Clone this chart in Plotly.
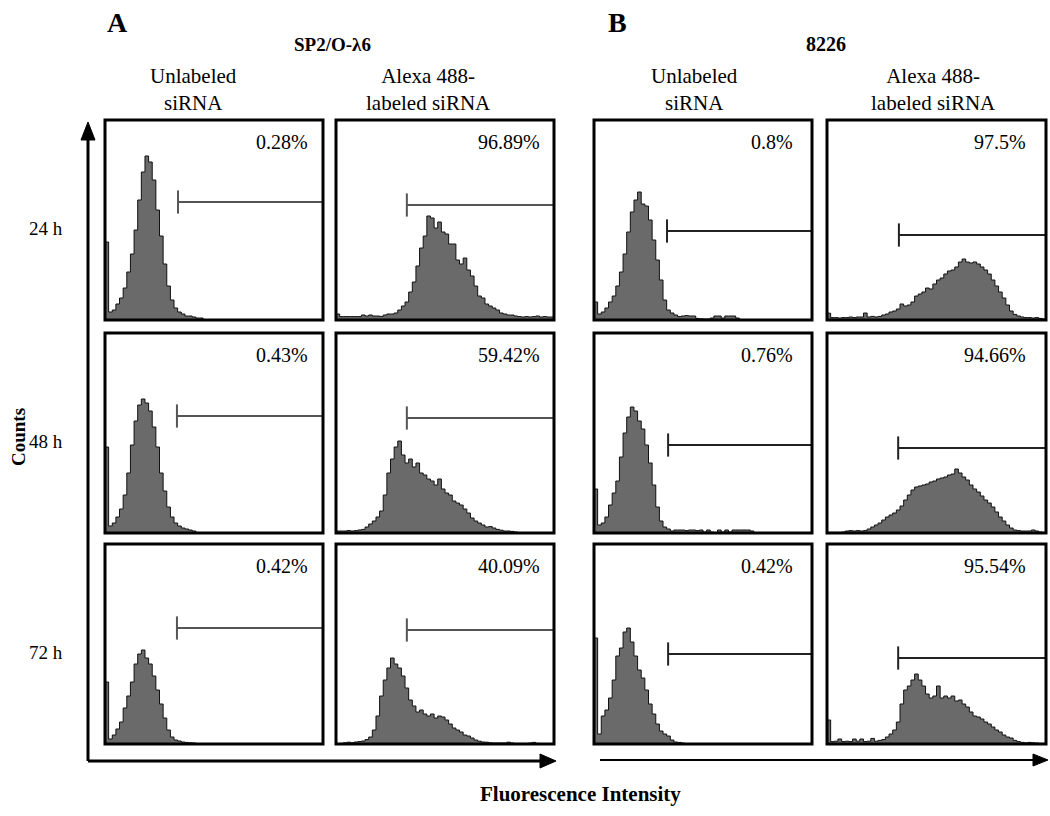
import plotly.graph_objects as go

# ---------------- data (counts, % of panel full scale; 60 channels) ----------------
sp2_unlab_24h = [39,4,5,8,11,16,24,33,45,60, 74,82,79,70,55,42,28,17,10,6,
                 4,3,2,2,1.5,1,1,0,0,0, 0,0,0,0,0,0,0,0,0,0,
                 0,0,0,0,0,0,0,0,0,0, 0,0,0,0,0,0,0,0,0,0]
sp2_alexa_24h = [3,1.7,1.7,1.7,1.7,1.7,1.7,2.5,2,2.5, 2,2,1.8,2.5,3,3,3.5,5,7,9,
                 14,19,27,36,42,52,51,46,49,44, 43,38,38,30,28,31,25,22,17,12,
                 11,8,7,6,5,3.5,3,2.5,2.5,2, 1.7,1.5,1.7,1.5,1.7,2,1.5,1.7,1.5,1.5]
c8226_unlab_24h = [9,3,4,6,9,12,17,24,33,44, 54,60,64,58,57,50,40,30,20,10,
                   5,3.5,2.5,1.7,2,2.2,2,2,0.8,0.6, 0.5,0.5,1,2,2,1,2,2,2,1,
                   0,0,0,0,0,0,0,0,0,0, 0,0,0,0,0,0,0,0,0,0]
c8226_alexa_24h = [3.4,1.2,1.2,1,1.2,1.2,1.5,1.2,1.5,1.5, 3.5,1.5,1.8,1.5,1.8,2.5,3,4,4.5,5.5,
                   8,7,7.5,9,12,13,14,16,15.5,18, 20,21,23,24.5,25,26.5,29,30.5,29,28.5,
                   29,28,26.5,25,23,20,17,14,11,7.5, 4.5,2.8,2,1.5,1.2,1.2,1,1.2,0.8,0.5]

sp2_unlab_48h = [43,3.5,5,8,12,19,30,44,56,64, 67,65,61,53,43,30,21,13,8,5,
                 3.5,2.5,2,1.5,1,0,0,0,0,0, 0,0,0,0,0,0,0,0,0,0,
                 0,0,0,0,0,0,0,0,0,0, 0,0,0,0,0,0,0,0,0,0]
sp2_alexa_48h = [1,1,1,1.2,1,1.2,1.5,1.8,3,4.5, 6,8,11,19,30,37,43,46,39,35,
                 37,33,35,30,29,27,26,24,27,22, 20,19,16,15,14,12,10,7.5,6,5,
                 4,3,3.2,2.5,1.8,1.4,1,1,0.8,0.5, 0,0,0,0,0,0,0,0,0,0]
c8226_unlab_48h = [22,4,5,8,14,20,26,38,50,58, 63,61,56,52,44,35,24,13,6,3,
                   2,1,1.5,1.5,1.5,1.2,1.5,1.5,1.2,1.5, 0.5,1.5,0.5,0,1.5,0.5,1.5,0.5,1.5,1.5,
                   1.5,1.5,1.5,1,0,0,0,0,0,0, 0,0,0,0,0,0,0,0,0,0]
c8226_alexa_48h = [0.3,0.3,0.3,0.3,0.5,1,1.2,1,1.2,1, 1.2,2,3,4,5,6.5,8,9,10,11.5,
                   13.5,16.5,19,21.5,23,23.5,24,24.5,25.5,26, 27,27.5,28,29,29.5,32,30,28,26.5,24,
                   22,20.5,18.5,16.5,15,13,10.5,8,6,4, 2.5,1.5,1.2,1,1,1,1.5,1,0.5,0.3]

sp2_unlab_72h = [31,2.5,4.5,7.5,11,18,24,31,40,45, 47,43,40,34,27,20,13,7,3.5,2,
                 1.5,1,0.8,0.6,0.5,0,0,0,0,0, 0,0,0,0,0,0,0,0,0,0,
                 0,0,0,0,0,0,0,0,0,0, 0,0,0,0,0,0,0,0,0,0]
sp2_alexa_72h = [0.2,0.3,0.6,0.9,0.6,1,1.2,1.5,2.2,3.5, 7,14,24,32,38,43,40,38,34,28,
                 22,19,16,17,15,14,15,13,14,13.5, 12,10,8,7,6,4.5,4,3,2,1.4,
                 1,0.9,0.6,0.5,0.5,0.5,0.5,0.9,0.5,0.3, 0.3,0.3,0.3,0.5,0.8,0.3,0.2,0.2,0.2,0.2]
c8226_unlab_72h = [53,5,14,17,23,32,44,48,56,58, 51,44,37,33,27,20,15,10,6.5,5,
                   4,2,1,0.8,0.5,0,0,0,0,0, 0,0,0,0,0,0,0,0,0,0,
                   0,0,0,0,0,0,0,0,0,0, 0,0,0,0,0,0,0,0,0,0]
c8226_alexa_72h = [12,1.2,1.4,2.5,1.2,1.4,1.2,2.5,1.4,2.5, 1.2,1.4,2.8,1.4,1.8,2.2,3.5,5,7,11,
                   20,27,29,32,35,32,29,25,23,24, 29,23,24,23,24,21.5,22,20,18.5,16,
                   14,13.5,12.5,11,10,8.5,7,6,4.5,3.5, 3,1.8,1.2,0.8,0.6,0.8,0.6,0.5,0.3,0.3]

time_labels = ["24 h", "48 h", "72 h"]
column_labels = ["Unlabeled<br>siRNA", "Alexa 488-<br>labeled siRNA",
                 "Unlabeled<br>siRNA", "Alexa 488-<br>labeled siRNA"]
panel_letters = ["A", "B"]
cell_lines = ["SP2/O-λ6", "8226"]

histograms = [
    [sp2_unlab_24h, sp2_alexa_24h, c8226_unlab_24h, c8226_alexa_24h],
    [sp2_unlab_48h, sp2_alexa_48h, c8226_unlab_48h, c8226_alexa_48h],
    [sp2_unlab_72h, sp2_alexa_72h, c8226_unlab_72h, c8226_alexa_72h],
]
percent_positive = [
    ["0.28%", "96.89%", "0.8%", "97.5%"],
    ["0.43%", "59.42%", "0.76%", "94.66%"],
    ["0.42%", "40.09%", "0.42%", "95.54%"],
]
gate_start = [
    [20.1, 19.5, 20.1, 19.7],
    [19.8, 19.5, 20.4, 19.5],
    [19.8, 19.5, 20.4, 19.5],
]
gate_level = [
    [59, 57.5, 44.5, 42.5],
    [58.5, 57.5, 44, 42.5],
    [58, 57, 45, 43],
]
N_CH = 60

# ---------------- layout geometry (window pixels) ----------------
W, H = 1050, 816
col_px = [(105, 323), (336, 554), (594, 812), (827, 1046)]
row_px = [(120, 320), (333, 533), (544, 744)]
pct_right_px = [310, 542, 795, 1028]


def px(x):
    return x / W


def py(y):
    return 1 - y / H


fig = go.Figure()
layout_axes = {}
shapes = []
annotations = []
FONT = "Liberation Serif"

k = 0
for r in range(3):
    for c in range(4):
        k += 1
        xa = "x" if k == 1 else f"x{k}"
        ya = "y" if k == 1 else f"y{k}"
        xname = "xaxis" if k == 1 else f"xaxis{k}"
        yname = "yaxis" if k == 1 else f"yaxis{k}"
        x0, x1 = col_px[c]
        y0, y1 = row_px[r]
        layout_axes[xname] = dict(domain=[px(x0), px(x1)], range=[0, N_CH], visible=False,
                                  anchor=ya, fixedrange=True)
        layout_axes[yname] = dict(domain=[py(y1), py(y0)], range=[0, 100], visible=False,
                                  anchor=xa, fixedrange=True)
        vals = histograms[r][c]
        xs = list(range(N_CH)) + [N_CH]
        ys = list(vals) + [vals[-1]]
        fig.add_trace(go.Scatter(x=xs, y=ys, xaxis=xa, yaxis=ya, mode="lines",
                                 line=dict(color="#111111", width=1, shape="hv"),
                                 fill="tozeroy", fillcolor="#6a6a6a",
                                 hoverinfo="skip", showlegend=False))
        gs, gl = gate_start[r][c], gate_level[r][c]
        gate_col = "#555555" if c < 2 else "#222222"
        fig.add_trace(go.Scatter(x=[gs, N_CH, None, gs, gs], y=[gl, gl, None, gl - 5.8, gl + 5.8],
                                 xaxis=xa, yaxis=ya, mode="lines",
                                 line=dict(color=gate_col, width=2),
                                 hoverinfo="skip", showlegend=False))
        shapes.append(dict(type="rect", xref="paper", yref="paper",
                           x0=px(x0), x1=px(x1), y0=py(y1), y1=py(y0),
                           line=dict(color="black", width=3), layer="above"))
        annotations.append(dict(text=percent_positive[r][c], xref="paper", yref="paper",
                                x=px(pct_right_px[c]), y=py(y0 + 22), xanchor="right",
                                yanchor="middle", showarrow=False,
                                font=dict(family=FONT, size=20, color="black")))

# row labels
for r in range(3):
    y0, y1 = row_px[r]
    annotations.append(dict(text=time_labels[r], xref="paper", yref="paper",
                            x=px(46), y=py((y0 + y1) / 2 + 8), xanchor="center", yanchor="middle",
                            showarrow=False, font=dict(family=FONT, size=19, color="black")))

# column headers
header_x = [193, 428, 694, 933]
header_y = [89, 89, 89, 89]
for c in range(4):
    annotations.append(dict(text=column_labels[c], xref="paper", yref="paper",
                            x=px(header_x[c]), y=py(header_y[c]), xanchor="center", yanchor="middle",
                            showarrow=False, align="center",
                            font=dict(family=FONT, size=21, color="black")))

# panel letters and cell lines
annotations.append(dict(text="<b>" + panel_letters[0] + "</b>", xref="paper", yref="paper",
                        x=px(117), y=py(22), xanchor="center", yanchor="middle", showarrow=False,
                        font=dict(family=FONT, size=28, color="black")))
annotations.append(dict(text="<b>" + panel_letters[1] + "</b>", xref="paper", yref="paper",
                        x=px(617), y=py(22), xanchor="center", yanchor="middle", showarrow=False,
                        font=dict(family=FONT, size=28, color="black")))
annotations.append(dict(text="<b>" + cell_lines[0] + "</b>", xref="paper", yref="paper",
                        x=px(333), y=py(44), xanchor="center", yanchor="middle", showarrow=False,
                        font=dict(family=FONT, size=19, color="black")))
annotations.append(dict(text="<b>" + cell_lines[1] + "</b>", xref="paper", yref="paper",
                        x=px(826), y=py(44), xanchor="center", yanchor="middle", showarrow=False,
                        font=dict(family=FONT, size=20, color="black")))

# axis titles
annotations.append(dict(text="<b>Counts</b>", xref="paper", yref="paper", x=px(18), y=py(437),
                        xanchor="center", yanchor="middle", textangle=-90, showarrow=False,
                        font=dict(family=FONT, size=19, color="black")))
annotations.append(dict(text="<b>Fluorescence Intensity</b>", xref="paper", yref="paper",
                        x=px(580), y=py(794), xanchor="center", yanchor="middle", showarrow=False,
                        font=dict(family=FONT, size=21, color="black")))

# axis arrows
shapes.append(dict(type="line", xref="paper", yref="paper", x0=px(88), x1=px(88),
                   y0=py(761), y1=py(136), line=dict(color="black", width=3)))
shapes.append(dict(type="path", xref="paper", yref="paper",
                   path=f"M {px(88)} {py(122)} L {px(81)} {py(140)} L {px(95)} {py(140)} Z",
                   fillcolor="black", line=dict(color="black", width=1)))
shapes.append(dict(type="line", xref="paper", yref="paper", x0=px(88), x1=px(545),
                   y0=py(761), y1=py(761), line=dict(color="black", width=3)))
shapes.append(dict(type="path", xref="paper", yref="paper",
                   path=f"M {px(556)} {py(761)} L {px(540)} {py(754)} L {px(540)} {py(768)} Z",
                   fillcolor="black", line=dict(color="black", width=1)))
shapes.append(dict(type="line", xref="paper", yref="paper", x0=px(600), x1=px(1036),
                   y0=py(760), y1=py(760), line=dict(color="black", width=2)))
shapes.append(dict(type="path", xref="paper", yref="paper",
                   path=f"M {px(1048)} {py(760)} L {px(1033)} {py(754)} L {px(1033)} {py(766)} Z",
                   fillcolor="black", line=dict(color="black", width=1)))

fig.update_layout(width=W, height=H, autosize=False,
                  margin=dict(l=0, r=0, t=0, b=0),
                  paper_bgcolor="white", plot_bgcolor="white",
                  shapes=shapes, annotations=annotations, showlegend=False,
                  **layout_axes)

fig.write_html("out.html", config={"displayModeBar": False},
               post_script="document.body.style.margin='0px';document.body.style.overflow='hidden';")
